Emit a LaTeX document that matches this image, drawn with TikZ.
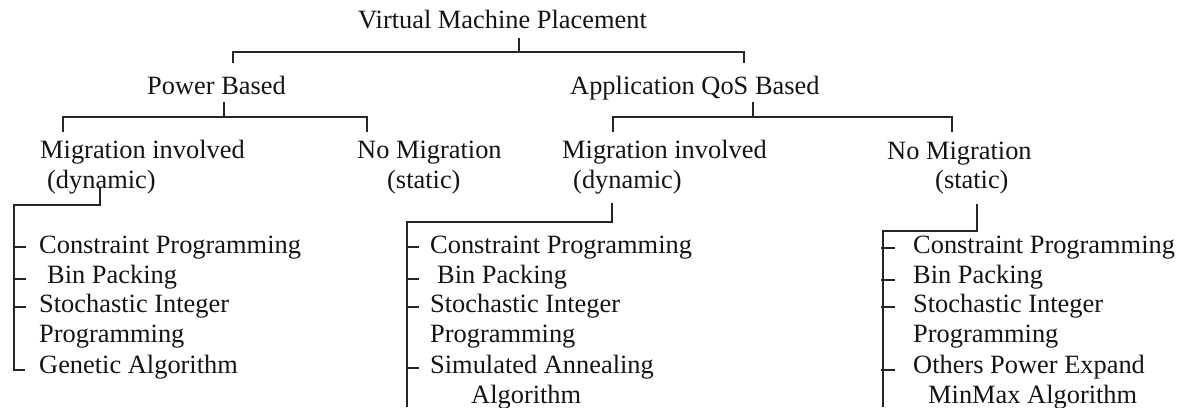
\documentclass[tikz,border=0pt]{standalone}
\usepackage{fontspec}
\setmainfont{Liberation Serif}
\begin{document}
\begin{tikzpicture}[x=1pt,y=-1pt,
  lbl/.style={anchor=base west, inner sep=0pt, text=black!92, font=\fontsize{26.4}{30}\selectfont},
  conn/.style={draw=black!85, line width=2.6pt, line join=miter, line cap=butt}]
\useasboundingbox[fill=white] (0,0) rectangle (1190,407);

% ---- texts ----
\node[lbl] (vmp) at (358,28) {Virtual Machine Placement};
\node[lbl] (pb) at (147,94) {Power Based};
\node[lbl] (aq) at (570,94) {Application QoS Based};
\node[lbl] (pmi) at (40,158) {Migration involved};
\node[lbl] (pmid) at (47,188) {(dynamic)};
\node[lbl] (pnm) at (357,158) {No Migration};
\node[lbl] (pnms) at (387,188) {(static)};
\node[lbl] (ami) at (562,158) {Migration involved};
\node[lbl] (amid) at (573,188) {(dynamic)};
\node[lbl] (anm) at (887,159) {No Migration};
\node[lbl] (anms) at (935,188) {(static)};

% left list
\node[lbl] (l1) at (39,253) {Constraint Programming};
\node[lbl] (l2) at (47,283) {Bin Packing};
\node[lbl] (l3) at (39,312) {Stochastic Integer};
\node[lbl] (l3b) at (39,342) {Programming};
\node[lbl] (l4) at (39,373) {Genetic Algorithm};
% middle list
\node[lbl] (m1) at (430,253) {Constraint Programming};
\node[lbl] (m2) at (437,283) {Bin Packing};
\node[lbl] (m3) at (430,312) {Stochastic Integer};
\node[lbl] (m3b) at (430,342) {Programming};
\node[lbl] (m4) at (430,373) {Simulated Annealing};
\node[lbl] (m4b) at (471,403) {Algorithm};
% right list
\node[lbl] (r1) at (913,253) {Constraint Programming};
\node[lbl] (r2) at (913,283) {Bin Packing};
\node[lbl] (r3) at (913,312) {Stochastic Integer};
\node[lbl] (r3b) at (913,342) {Programming};
\node[lbl] (r4) at (913,373) {Others Power Expand};
\node[lbl] (r4b) at (928,403) {MinMax Algorithm};

% ---- junction coordinates ----
\coordinate (vt1) at (519,38);  \coordinate (vt2) at (519,52);
\coordinate (vL) at (233,52);   \coordinate (vLd) at (233,63);
\coordinate (vR) at (744,52);   \coordinate (vRd) at (744,63);

\coordinate (pt1) at (224,102); \coordinate (pt2) at (224,117);
\coordinate (pL) at (63,117);   \coordinate (pLd) at (63,132);
\coordinate (pR) at (367,117);  \coordinate (pRd) at (367,132);

\coordinate (at1) at (753,102); \coordinate (at2) at (753,117);
\coordinate (aL) at (613,117);  \coordinate (aLd) at (613,132);
\coordinate (aR) at (952,117);  \coordinate (aRd) at (952,132);

\coordinate (lb0) at (100,187); \coordinate (lb1) at (100,205);
\coordinate (lb2) at (14,205);  \coordinate (lb3) at (14,370);
\coordinate (lb4) at (25,370);

\coordinate (mb0) at (612,203); \coordinate (mb1) at (612,222);
\coordinate (mb2) at (407,222); \coordinate (mb3) at (407,407);

\coordinate (rb0) at (977,204); \coordinate (rb1) at (977,231);
\coordinate (rb2) at (883,231); \coordinate (rb3) at (883,407);

% ---- connectors ----
\draw[conn] (vt1) -- (vt2);
\draw[conn] (vLd) -- (vL) -- (vR) -- (vRd);
\draw[conn] (pt1) -- (pt2);
\draw[conn] (pLd) -- (pL) -- (pR) -- (pRd);
\draw[conn] (at1) -- (at2);
\draw[conn] (aLd) -- (aL) -- (aR) -- (aRd);

\draw[conn] (lb0) -- (lb1) -- (lb2) -- (lb3) -- (lb4);
\foreach \yy in {247,279,307}{
  \draw[conn] (14,\yy) -- (26,\yy);
}
\draw[conn] (mb0) -- (mb1) -- (mb2) -- (mb3);
\foreach \yy in {247,279,307,368}{
  \draw[conn] (407,\yy) -- (419,\yy);
}
\draw[conn] (rb0) -- (rb1) -- (rb2) -- (rb3);
\foreach \yy in {248,280,307,370}{
  \draw[conn] (881,\yy) -- (895,\yy);
}
\end{tikzpicture}
\end{document}
